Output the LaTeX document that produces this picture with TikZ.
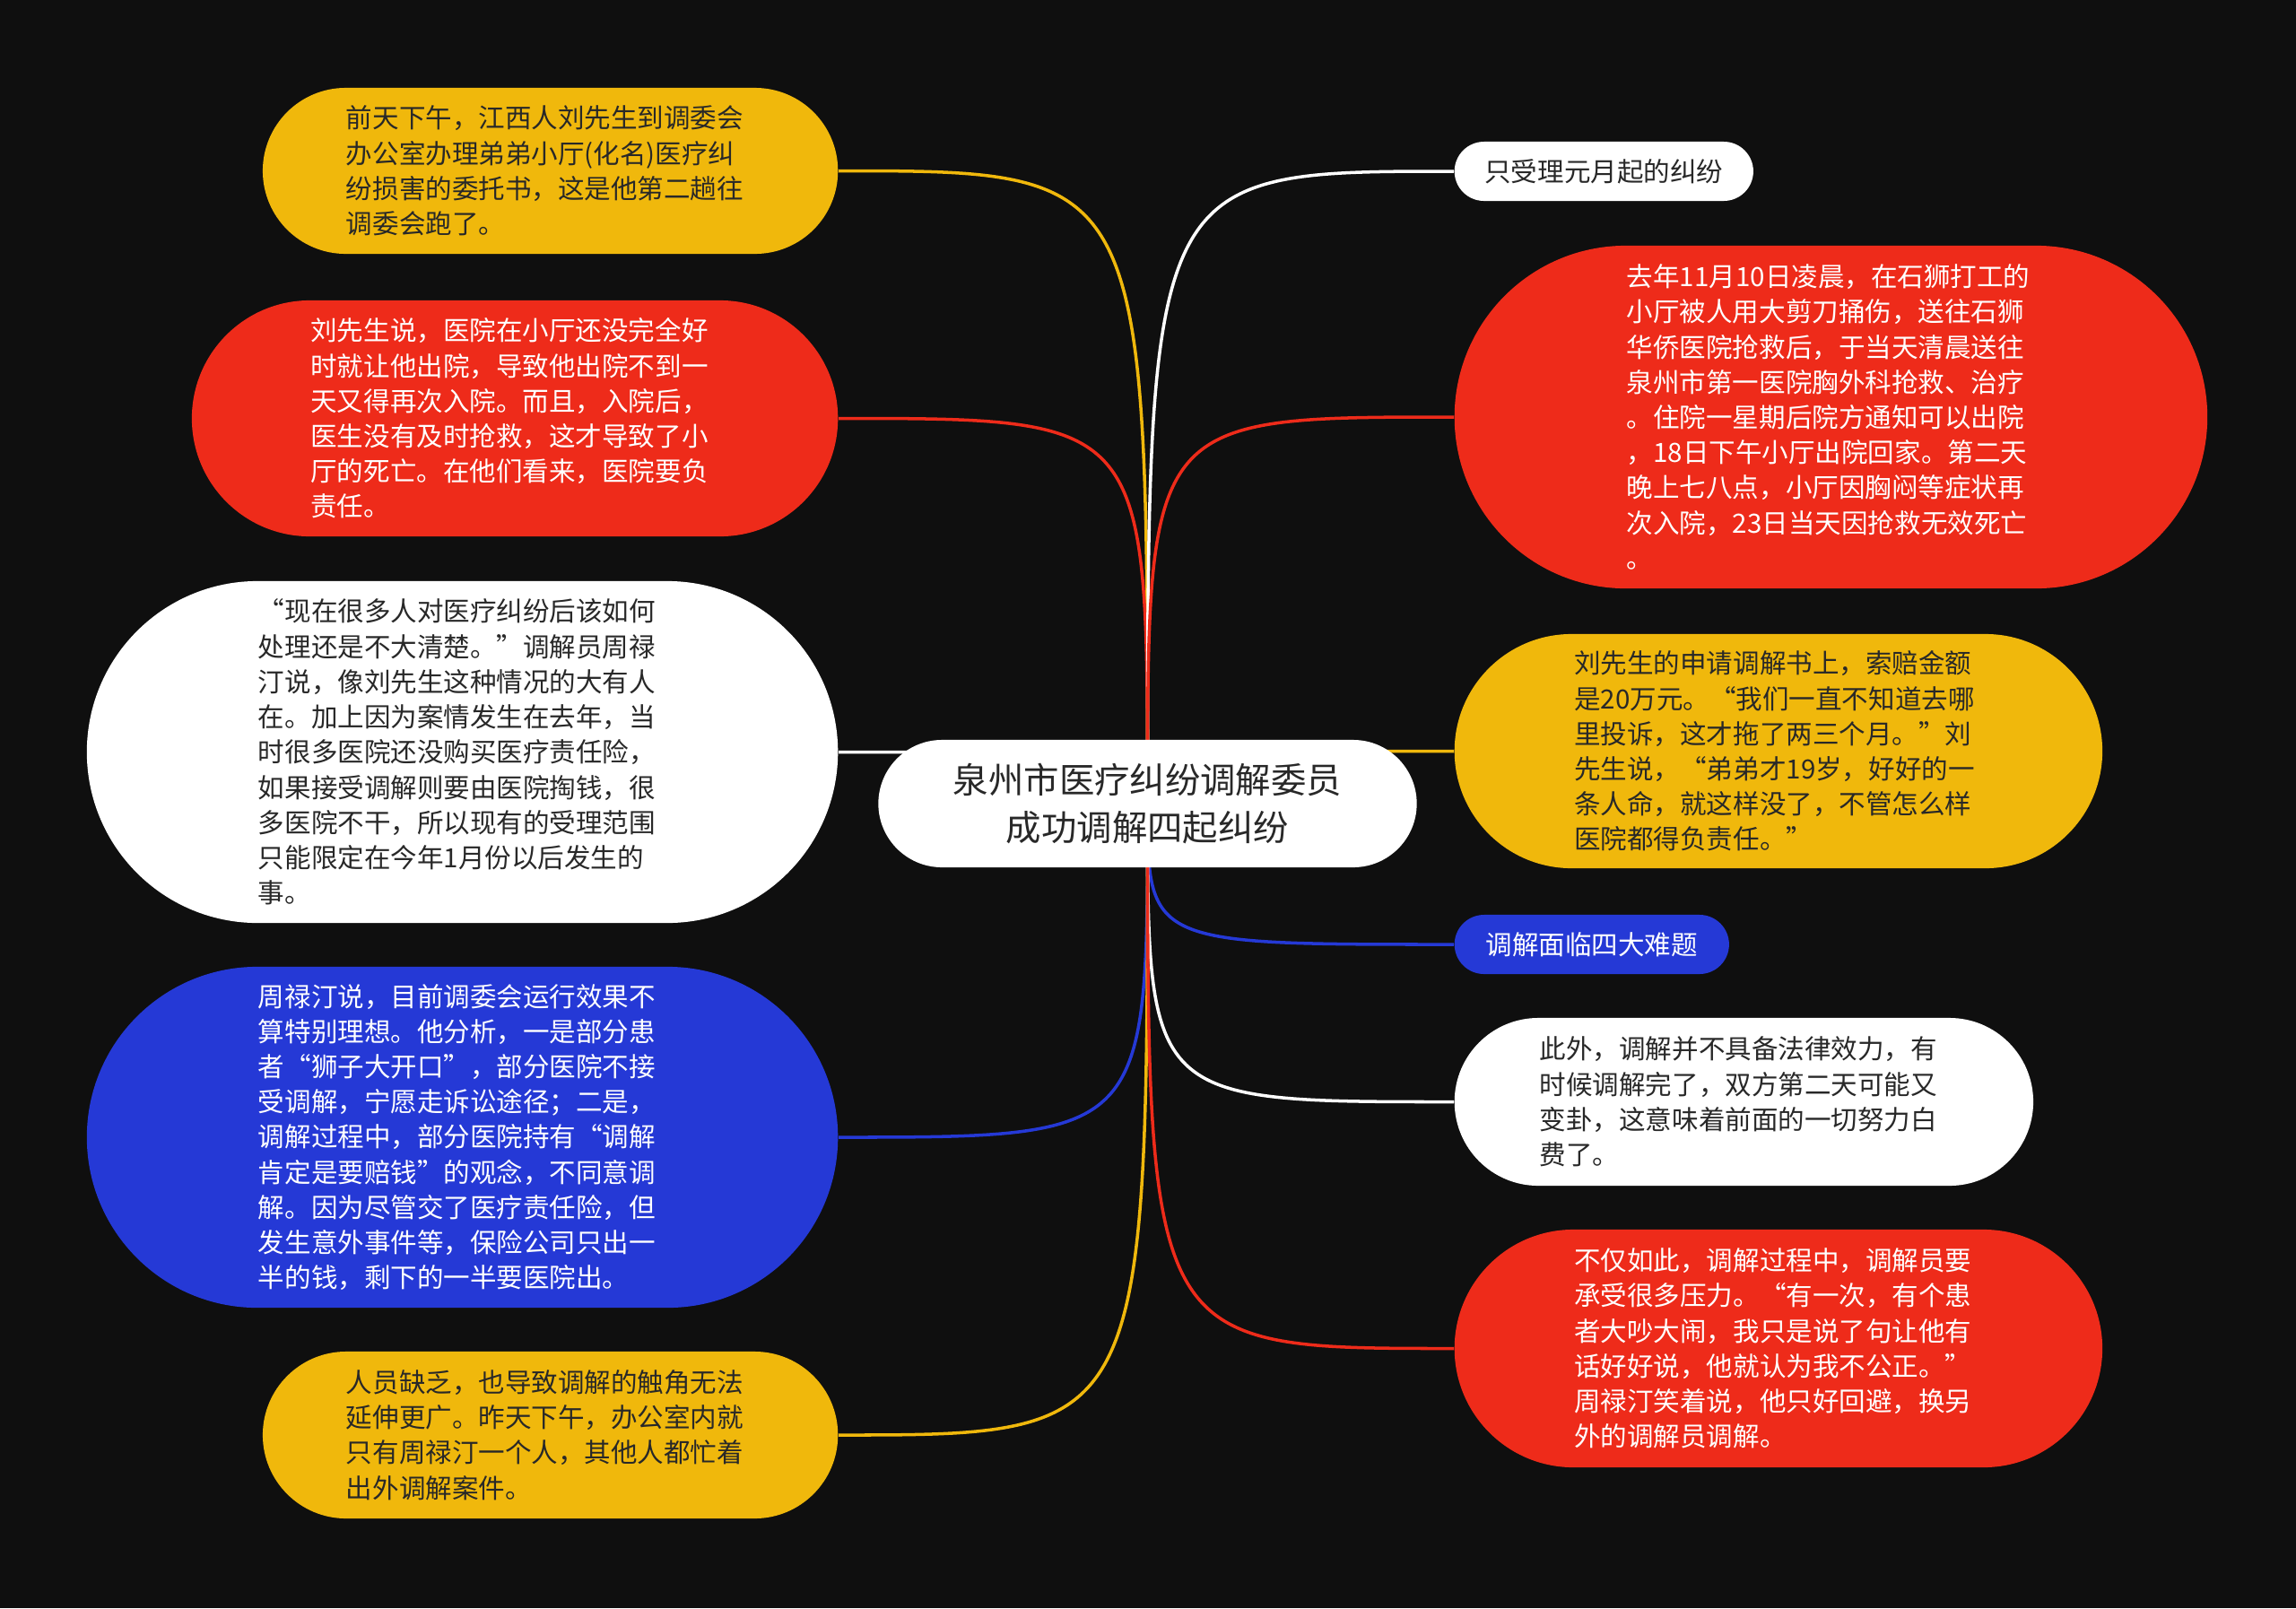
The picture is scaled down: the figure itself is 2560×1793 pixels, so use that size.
\documentclass[tikz,border=0pt]{standalone}
\usepackage{fontspec}
\setmainfont{Noto Sans CJK SC}
\usepackage{tikz}
\usetikzlibrary{shapes.misc, backgrounds}
\definecolor{bgdark}{RGB}{15, 15, 15}
\definecolor{ylwfill}{RGB}{240, 184, 12}
\definecolor{redfill}{RGB}{238, 43, 26}
\definecolor{bluefill}{RGB}{37, 57, 214}
\definecolor{darktext}{RGB}{40, 40, 40}
\newcommand{\zhlq}{\makebox[1em][r]{“}}
\newcommand{\zhrq}{\makebox[1em][l]{”}}

\begin{document}
\begin{tikzpicture}[x=0.01cm, y=-0.01cm,
    topic/.style={shape=rounded rectangle, inner sep=0pt, align=left,
                  font=\fontsize{8.4}{11.15}\selectfont},
    para/.style={text width=4.55cm},
    ylwtopic/.style={topic, fill=ylwfill, text=darktext},
    redtopic/.style={topic, fill=redfill, text=white},
    bluetopic/.style={topic, fill=bluefill, text=white},
    whitetopic/.style={topic, fill=white, text=darktext},
    link/.style={line width=1pt}]

\useasboundingbox (0,0) rectangle (2560,1793);

% Central topic
\node[whitetopic, align=center, minimum width=6.00cm, minimum height=1.42cm,
      font=\fontsize{11.2}{14.9}\selectfont] (root) at (1279.5, 896)
      {泉州市医疗纠纷调解委员\\成功调解四起纠纷};

% Left side
\node[ylwtopic, para, anchor=east, minimum width=6.41cm, minimum height=1.85cm] (L1) at (935, 190.5)
  {前天下午，江西人刘先生到调委会\\办公室办理弟弟小厅(化名)医疗纠\\纷损害的委托书，这是他第二趟往\\调委会跑了。};
\node[redtopic, para, anchor=east, minimum width=7.20cm, minimum height=2.63cm] (L2) at (935, 466.5)
  {刘先生说，医院在小厅还没完全好\\时就让他出院，导致他出院不到一\\天又得再次入院。而且，入院后，\\医生没有及时抢救，这才导致了小\\厅的死亡。在他们看来，医院要负\\责任。};
\node[whitetopic, para, anchor=east, minimum width=8.37cm, minimum height=3.81cm] (L3) at (935, 838.5)
  {\zhlq 现在很多人对医疗纠纷后该如何\\处理还是不大清楚。\zhrq 调解员周禄\\汀说，像刘先生这种情况的大有人\\在。加上因为案情发生在去年，当\\时很多医院还没购买医疗责任险，\\如果接受调解则要由医院掏钱，很\\多医院不干，所以现有的受理范围\\只能限定在今年1月份以后发生的\\事。};
\node[bluetopic, para, anchor=east, minimum width=8.37cm, minimum height=3.80cm] (L4) at (935, 1268)
  {周禄汀说，目前调委会运行效果不\\算特别理想。他分析，一是部分患\\者\zhlq 狮子大开口\zhrq ，部分医院不接\\受调解，宁愿走诉讼途径；二是，\\调解过程中，部分医院持有\zhlq 调解\\肯定是要赔钱\zhrq 的观念，不同意调\\解。因为尽管交了医疗责任险，但\\发生意外事件等，保险公司只出一\\半的钱，剩下的一半要医院出。};
\node[ylwtopic, para, anchor=east, minimum width=6.41cm, minimum height=1.86cm] (L5) at (935, 1600)
  {人员缺乏，也导致调解的触角无法\\延伸更广。昨天下午，办公室内就\\只有周禄汀一个人，其他人都忙着\\出外调解案件。};

% Right side
\node[whitetopic, anchor=west, minimum width=3.33cm, minimum height=0.66cm] (R1) at (1621, 191)
  {只受理元月起的纠纷};
\node[redtopic, para, anchor=west, minimum width=8.39cm, minimum height=3.82cm] (R2) at (1621, 465)
  {去年11月10日凌晨，在石狮打工的\\小厅被人用大剪刀捅伤，送往石狮\\华侨医院抢救后，于当天清晨送往\\泉州市第一医院胸外科抢救、治疗\\。住院一星期后院方通知可以出院\\，18日下午小厅出院回家。第二天\\晚上七八点，小厅因胸闷等症状再\\次入院，23日当天因抢救无效死亡\\。};
\node[ylwtopic, para, anchor=west, minimum width=7.22cm, minimum height=2.61cm] (R3) at (1621, 837.5)
  {刘先生的申请调解书上，索赔金额\\是20万元。\zhlq 我们一直不知道去哪\\里投诉，这才拖了两三个月。\zhrq 刘\\先生说，\zhlq 弟弟才19岁，好好的一\\条人命，就这样没了，不管怎么样\\医院都得负责任。\zhrq};
\node[bluetopic, anchor=west, minimum width=3.06cm, minimum height=0.66cm] (R4) at (1621, 1053)
  {调解面临四大难题};
\node[whitetopic, para, anchor=west, minimum width=6.45cm, minimum height=1.87cm] (R5) at (1621, 1228.5)
  {此外，调解并不具备法律效力，有\\时候调解完了，双方第二天可能又\\变卦，这意味着前面的一切努力白\\费了。};
\node[redtopic, para, anchor=west, minimum width=7.22cm, minimum height=2.65cm] (R6) at (1621, 1503.5)
  {不仅如此，调解过程中，调解员要\\承受很多压力。\zhlq 有一次，有个患\\者大吵大闹，我只是说了句让他有\\话好好说，他就认为我不公正。\zhrq\\周禄汀笑着说，他只好回避，换另\\外的调解员调解。};

% Background and branches
\begin{scope}[on background layer]
  \fill[bgdark] (0,0) rectangle (2560,1793);
  \foreach \n/\c in {L1/ylwfill, L2/redfill, L3/white, L4/bluefill, L5/ylwfill}
    \draw[link, \c] (root.center) .. controls (root.center |- \n.east) .. (\n.east);
  \foreach \n/\c in {R1/white, R2/redfill, R3/ylwfill, R4/bluefill, R5/white, R6/redfill}
    \draw[link, \c] (root.center) .. controls (root.center |- \n.west) .. (\n.west);
\end{scope}

\end{tikzpicture}
\end{document}
